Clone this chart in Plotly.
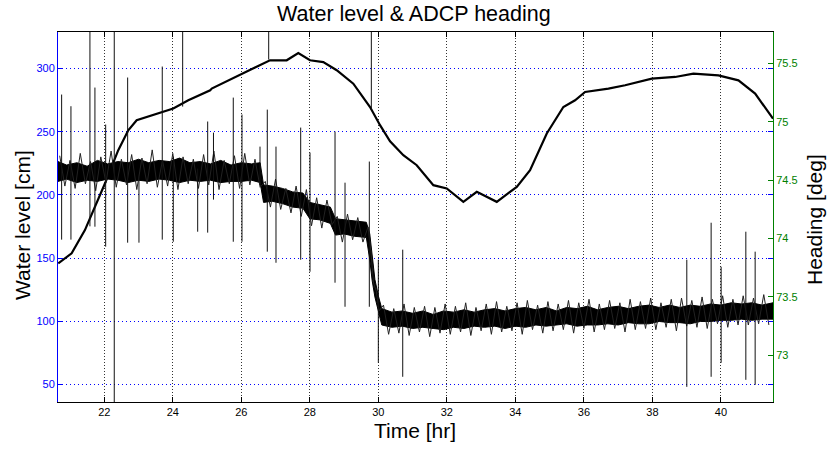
import plotly.graph_objects as go

# ---------------- data ----------------
# Water level curve (left axis, cm) vs time (hr)
wl_time = [20.657, 21.048, 21.436, 21.728, 22.020, 22.409, 22.701, 22.946, 23.384, 24.015,
           24.453, 25.092, 25.136, 26.058, 26.838, 27.325, 27.664, 28.006, 28.394, 28.785,
           29.270, 29.758, 30.050, 30.342, 30.730, 31.121, 31.606, 31.997, 32.482, 32.873,
           33.457, 34.041, 34.429, 34.917, 35.401, 35.743, 36.035, 36.716, 37.203, 37.983,
           38.663, 39.197, 39.927, 40.511, 40.999, 41.520]
wl_cm = [145.8, 153.7, 172.1, 190.5, 209.0, 235.4, 251.2, 259.1, 263.1, 268.4,
         274.9, 282.8, 284.2, 296.0, 306.6, 306.6, 312.3, 306.6, 305.2, 298.7,
         288.1, 269.6, 255.2, 242.5, 231.4, 223.5, 207.7, 205.1, 194.5, 202.4,
         194.5, 206.3, 219.6, 248.6, 269.6, 274.9, 281.5, 284.2, 286.8, 292.1,
         293.4, 296.0, 294.7, 290.7, 280.2, 260.4]

# ADCP heading (right axis, deg): solid core of the noisy band (lower/upper envelope)
hd_time = [20.65, 20.90, 21.20, 21.50, 21.80, 22.10, 22.40, 22.70, 23.00, 23.30,
           23.60, 23.90, 24.20, 24.50, 24.80, 25.10, 25.40, 25.70, 26.00, 26.30,
           26.55, 26.65, 26.90, 27.20, 27.50, 27.80, 28.00, 28.30, 28.60, 28.75,
           29.00, 29.30, 29.65, 29.75, 29.82, 29.90, 30.00, 30.10, 30.40, 30.70,
           31.00, 31.30, 31.60, 31.90, 32.20, 32.50, 32.80, 33.10, 33.40, 33.70,
           34.00, 34.30, 34.60, 34.90, 35.20, 35.50, 35.80, 36.10, 36.40, 36.70,
           37.00, 37.30, 37.60, 37.90, 38.20, 38.50, 38.80, 39.10, 39.40, 39.70,
           40.00, 40.30, 40.60, 40.90, 41.20, 41.52]
hd_low = [74.49, 74.51, 74.48, 74.50, 74.49, 74.51, 74.50, 74.48, 74.50, 74.49,
          74.51, 74.50, 74.48, 74.50, 74.49, 74.50, 74.48, 74.49, 74.49, 74.50,
          74.48, 74.31, 74.32, 74.30, 74.27, 74.26, 74.17, 74.16, 74.13, 74.03,
          74.04, 74.02, 74.01, 73.82, 73.64, 73.50, 73.38, 73.26, 73.24, 73.25,
          73.23, 73.24, 73.23, 73.22, 73.24, 73.23, 73.25, 73.24, 73.25, 73.23,
          73.25, 73.24, 73.26, 73.25, 73.26, 73.27, 73.25, 73.26, 73.26, 73.27,
          73.26, 73.28, 73.27, 73.27, 73.29, 73.28, 73.28, 73.27, 73.29, 73.29,
          73.30, 73.30, 73.31, 73.30, 73.31, 73.31]
hd_high = [74.66, 74.63, 74.65, 74.62, 74.67, 74.64, 74.66, 74.65, 74.68, 74.65,
           74.67, 74.66, 74.69, 74.65, 74.66, 74.64, 74.67, 74.63, 74.65, 74.64,
           74.65, 74.46, 74.45, 74.43, 74.40, 74.39, 74.31, 74.29, 74.27, 74.17,
           74.16, 74.15, 74.14, 74.04, 73.84, 73.65, 73.51, 73.40, 73.37, 73.38,
           73.36, 73.38, 73.35, 73.38, 73.37, 73.39, 73.37, 73.39, 73.40, 73.38,
           73.40, 73.41, 73.39, 73.41, 73.38, 73.41, 73.40, 73.42, 73.39, 73.41,
           73.42, 73.40, 73.42, 73.43, 73.41, 73.43, 73.41, 73.43, 73.42, 73.44,
           73.43, 73.45, 73.44, 73.45, 73.43, 73.45]

# ADCP heading noise: individual samples read across the band (right axis, deg)
nz_time = [20.70, 20.85, 21.00, 21.15, 21.30, 21.45, 21.60, 21.75, 21.90, 22.05,
           22.20, 22.35, 22.50, 22.65, 22.80, 22.95, 23.10, 23.25, 23.40, 23.55,
           23.70, 23.85, 24.00, 24.15, 24.30, 24.45, 24.60, 24.75, 24.90, 25.05,
           25.20, 25.35, 25.50, 25.65, 25.80, 25.95, 26.10, 26.25, 26.40, 26.55,
           26.70, 26.85, 27.00, 27.15, 27.30, 27.45, 27.60, 27.75, 27.90, 28.05,
           28.20, 28.35, 28.50, 28.65, 28.80, 28.95, 29.10, 29.25, 29.40, 29.55,
           29.70, 29.78, 29.86, 29.94, 30.02,
           30.15, 30.30, 30.45, 30.60, 30.75, 30.90, 31.05, 31.20, 31.35, 31.50,
           31.65, 31.80, 31.95, 32.10, 32.25, 32.40, 32.55, 32.70, 32.85, 33.00,
           33.15, 33.30, 33.45, 33.60, 33.75, 33.90, 34.05, 34.20, 34.35, 34.50,
           34.65, 34.80, 34.95, 35.10, 35.25, 35.40, 35.55, 35.70, 35.85, 36.00,
           36.15, 36.30, 36.45, 36.60, 36.75, 36.90, 37.05, 37.20, 37.35, 37.50,
           37.65, 37.80, 37.95, 38.10, 38.25, 38.40, 38.55, 38.70, 38.85, 39.00,
           39.15, 39.30, 39.45, 39.60, 39.75, 39.90, 40.05, 40.20, 40.35, 40.50,
           40.65, 40.80, 40.95, 41.10, 41.25, 41.40]
nz_deg = [74.71, 74.45, 74.67, 74.43, 74.73, 74.47, 74.66, 74.41, 74.70, 74.48,
          74.75, 74.44, 74.68, 74.46, 74.72, 74.42, 74.69, 74.47, 74.76, 74.44,
          74.67, 74.45, 74.73, 74.42, 74.70, 74.47, 74.68, 74.43, 74.72, 74.46,
          74.75, 74.42, 74.67, 74.47, 74.71, 74.43, 74.73, 74.46, 74.68, 74.44,
          74.49, 74.27, 74.51, 74.25, 74.43, 74.22, 74.45, 74.19, 74.42, 74.11,
          74.35, 74.09, 74.33, 74.12, 74.19, 73.97, 74.21, 73.99, 74.18, 73.97,
          74.10, 73.90, 73.62, 73.55, 73.38,
          73.43, 73.18, 73.40, 73.19, 73.44, 73.17, 73.41, 73.20, 73.42, 73.16,
          73.41, 73.19, 73.44, 73.18, 73.42, 73.20, 73.45, 73.17, 73.41, 73.21,
          73.44, 73.18, 73.46, 73.20, 73.42, 73.21, 73.45, 73.18, 73.47, 73.22,
          73.43, 73.19, 73.46, 73.21, 73.44, 73.22, 73.47, 73.19, 73.45, 73.23,
          73.48, 73.20, 73.44, 73.22, 73.47, 73.23, 73.45, 73.20, 73.48, 73.22,
          73.46, 73.23, 73.49, 73.22, 73.45, 73.24, 73.48, 73.21, 73.49, 73.25,
          73.47, 73.24, 73.50, 73.23, 73.48, 73.27, 73.51, 73.24, 73.48, 73.26,
          73.51, 73.26, 73.49, 73.27, 73.52, 73.26]

# Heading spikes (outliers): time, lowest and highest value of each spike
spk_time = [20.756, 21.028, 21.582, 21.728, 22.041, 22.292, 22.683, 23.013, 23.693, 24.015,
            24.289, 24.727, 25.019, 25.188, 25.766, 26.020, 26.546, 26.759, 26.800, 27.013,
            27.734, 28.006, 28.736, 29.028, 29.737, 29.796, 30.000, 30.712, 39.004, 39.714,
            40.006, 40.727, 40.999]
spk_low = [73.991, 73.991, 74.105, 74.102, 73.931, 72.400, 73.965, 73.965, 73.991, 73.973,
           75.131, 74.059, 74.051, 74.334, 73.973, 73.973, 74.460, 73.888, 75.534, 73.793,
           73.819, 73.716, 73.622, 73.416, 73.416, 75.105, 72.936, 72.816, 72.730, 72.816,
           72.936, 72.790, 72.747]
spk_high = [75.234, 75.134, 76.000, 75.294, 74.977, 76.000, 75.380, 74.531, 75.474, 74.702,
            76.000, 74.600, 75.003, 74.908, 75.208, 75.063, 74.788, 75.105, 76.000, 74.788,
            74.951, 74.737, 74.917, 74.479, 74.660, 76.000, 73.819, 73.905, 73.819, 74.136,
            73.759, 74.059, 73.888]

x_ticks = [22, 24, 26, 28, 30, 32, 34, 36, 38, 40]
wl_ticks = [50, 100, 150, 200, 250, 300]
hd_ticks = [73, 73.5, 74, 74.5, 75, 75.5]

# ---------------- figure ----------------
FONT = "Liberation Sans, Arial, Helvetica, sans-serif"
BLUE = "#0000ff"
GREEN = "#008000"
W, H = 828, 449
L, R, T, B = 58, 55, 32, 47
PX0, PX1, PY0, PY1 = L, W - R, T, H - B


def px(xp):  # container pixel -> paper x
    return (xp - PX0) / (PX1 - PX0)


def py(yp):  # container pixel -> paper y
    return (PY1 - yp) / (PY1 - PY0)


fig = go.Figure()

# heading band core as a polygon
band_x = hd_time + hd_time[::-1]
band_y = hd_high + hd_low[::-1]
fig.add_trace(go.Scatter(x=band_x, y=band_y, yaxis="y2", mode="lines",
                         fill="toself", fillcolor="black",
                         line=dict(color="black", width=1), hoverinfo="skip",
                         showlegend=False))
# heading noise samples
fig.add_trace(go.Scatter(x=nz_time, y=nz_deg, yaxis="y2", mode="lines",
                         line=dict(color="#222222", width=1), showlegend=False))

# spikes
sx, sy = [], []
for t, lo, hi in zip(spk_time, spk_low, spk_high):
    sx += [t, t, None]
    sy += [lo, hi, None]
fig.add_trace(go.Scatter(x=sx, y=sy, yaxis="y2", mode="lines",
                         line=dict(color="#111111", width=1), showlegend=False))

# water level
fig.add_trace(go.Scatter(x=wl_time, y=wl_cm, mode="lines",
                         line=dict(color="black", width=2.2), showlegend=False))

fig.update_layout(
    width=W, height=H,
    margin=dict(l=L, r=R, t=T, b=B),
    paper_bgcolor="white", plot_bgcolor="white",
    font=dict(family=FONT, size=11, color="black"),
    showlegend=False,
    xaxis=dict(range=[20.65, 41.52], tickmode="array", tickvals=x_ticks,
               ticks="inside", ticklen=5, tickcolor="black", tickwidth=1,
               showline=True, linecolor="black", linewidth=1, mirror="ticks",
               showgrid=True, gridcolor="#333333", griddash="1px,2px", gridwidth=1,
               zeroline=False, tickfont=dict(size=11, color="black")),
    yaxis=dict(range=[36, 329], tickmode="array", tickvals=wl_ticks,
               ticks="inside", ticklen=5, tickcolor=BLUE, tickwidth=1,
               showline=True, linecolor=BLUE, linewidth=1, mirror="ticks",
               showgrid=True, gridcolor=BLUE, griddash="1px,3px", gridwidth=1,
               zeroline=False, tickfont=dict(size=11, color=BLUE)),
    yaxis2=dict(range=[72.6, 75.77], overlaying="y", side="right",
                tickmode="array", tickvals=hd_ticks,
                ticktext=[f"{v:g}" for v in hd_ticks],
                ticks="inside", ticklen=5, tickcolor=GREEN, tickwidth=1,
                showline=True, linecolor=GREEN, linewidth=1,
                showgrid=False, zeroline=False,
                tickfont=dict(size=11, color=GREEN)),
    annotations=[
        dict(text="Water level & ADCP heading", x=px(413.5), y=py(14),
             xref="paper", yref="paper", xanchor="center", yanchor="middle",
             showarrow=False, font=dict(size=21.5, color="black", family=FONT)),
        dict(text="Time [hr]", x=px(414.5), y=py(430),
             xref="paper", yref="paper", xanchor="center", yanchor="middle",
             showarrow=False, font=dict(size=21, color="black", family=FONT)),
        dict(text="Water level [cm]", x=px(22), y=py(225),
             xref="paper", yref="paper", xanchor="center", yanchor="middle",
             textangle=-90, showarrow=False,
             font=dict(size=21, color="black", family=FONT)),
        dict(text="Heading [deg]", x=px(815), y=py(220),
             xref="paper", yref="paper", xanchor="center", yanchor="middle",
             textangle=-90, showarrow=False,
             font=dict(size=21, color="black", family=FONT)),
    ],
)

fig.write_html("out.html")
